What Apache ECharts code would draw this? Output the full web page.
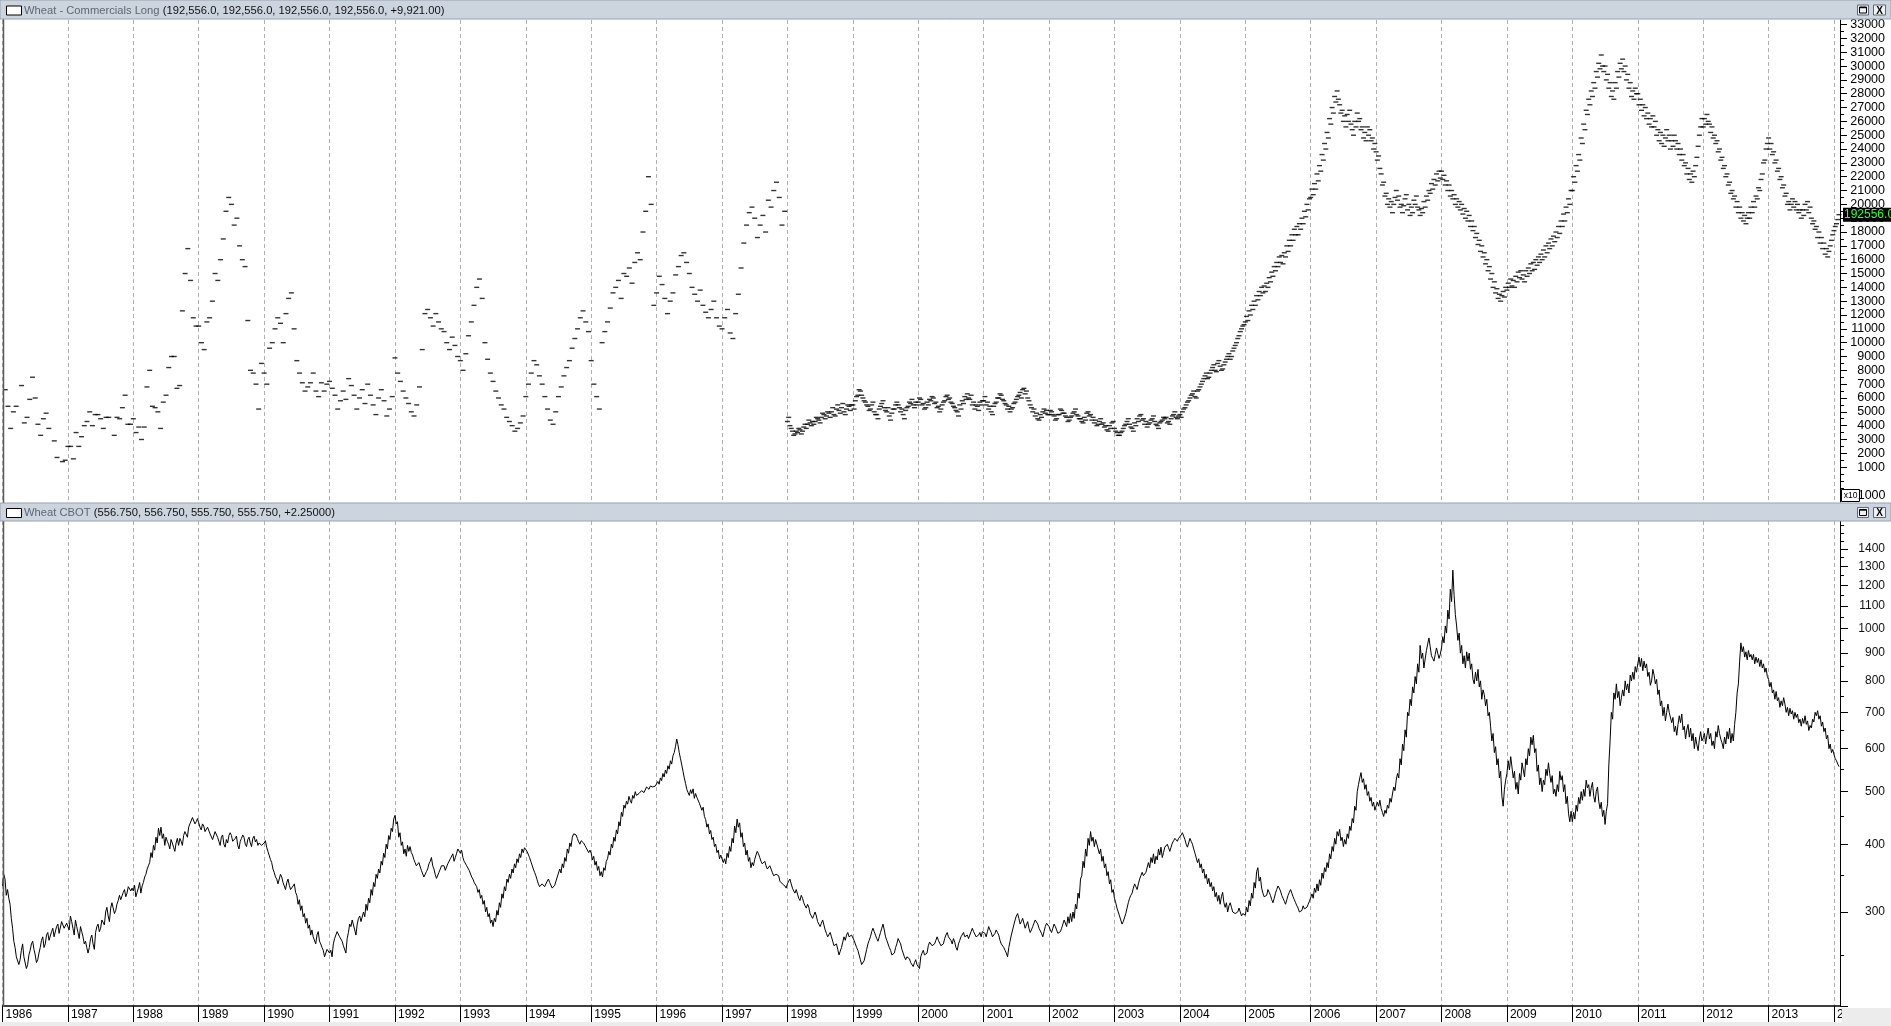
<!DOCTYPE html>
<html><head><meta charset="utf-8">
<script src="https://cdn.jsdelivr.net/npm/echarts@6/dist/echarts.min.js"></script>
<style>html,body{margin:0;padding:0;background:#fff;overflow:hidden}#c{width:1891px;height:1026px}</style>
</head><body><div id="c"></div>
<script>
// ---- DATA ----
// Commercials Long, thousands of contracts. Early reports (1986-1997), 24 slots per year; null = no report drawn
const cotEarlyStartYear = 1986, cotEarlyPerYear = 24;
const cotEarly = [
null,66,54,38,50,54,null,69,42,46,59,75,60,41,33,45,49,38,null,29,17,null,14,15,
25,25,16,35,25,32,40,43,50,40,48,48,45,38,46,46,null,33,46,45,53,62,41,41,
45,35,39,30,39,68,80,54,53,50,38,57,62,82,90,90,67,69,123,150,168,145,118,112,
112,100,95,115,118,130,150,145,160,175,195,205,200,185,190,170,160,155,116,80,78,70,52,85,
78,70,96,100,110,118,114,100,121,132,136,110,87,78,71,65,68,71,78,65,61,71,65,70,
72,67,62,52,58,65,59,74,69,62,52,60,66,56,70,62,55,48,60,66,58,47,52,61,
89,78,72,65,60,56,50,47,55,68,95,121,124,118,112,121,115,110,108,100,95,104,98,90,
87,80,92,105,115,127,140,146,132,100,88,78,72,65,60,55,52,46,43,40,36,38,42,47,
61,70,78,87,84,76,70,61,52,44,41,50,61,68,76,82,87,96,103,110,118,123,115,108,
87,70,61,52,100,108,115,125,136,140,145,132,150,148,154,143,158,165,160,180,195,220,200,127,
136,148,142,132,121,130,136,149,155,163,165,158,150,140,135,130,138,127,122,118,124,130,118,112,
110,118,124,107,103,121,135,154,172,185,194,198,190,176,185,192,180,203,198,210,216,205,185,195
];
// Weekly reports 1998-2014, 52 per year
const cotLateStartYear = 1998, cotLatePerYear = 52;
const cotLate = [
43,46,40,38,36,33,34,36,35,38,37,34,36, 39,41,38,41,44,42,40,43,41,43,46,45,44, 42,46,49,48,45,47,50,49,46,50,53,48,47, 52,55,51,49,53,56,50,48,52,55,54,51,55,
55,52,58,61,62,66,65,62,60,58,57,55,54, 51,52,55,57,50,48,48,45,52,54,56,58,53, 51,50,53,47,44,49,52,52,55,57,55,53,50, 52,48,45,51,53,54,57,56,59,55,53,57,55,
57,60,59,55,56,52,53,57,55,59,58,61,60, 56,57,53,54,50,52,55,57,58,61,62,59,60, 57,56,54,53,51,50,47,55,52,58,56,61,59, 63,60,59,62,55,57,52,55,54,51,57,55,58,
58,61,55,57,52,54,50,48,54,56,57,60,60, 63,62,59,58,56,55,52,54,50,52,53,56,57, 59,61,62,64,60,66,67,63,65,60,58,55,53, 50,52,47,49,45,44,48,46,50,52,49,51,48,
48,51,50,48,47,44,45,48,48,52,51,49,49, 47,46,43,44,46,47,49,50,52,48,47,45,45, 43,42,46,44,49,50,47,48,44,46,42,44,40, 41,43,45,41,42,39,40,37,36,40,38,42,43,
38,36,35,33,33,35,36,38,40,41,43,45,41, 39,38,36,42,40,45,43,47,48,44,45,41,43, 39,41,42,44,45,47,43,41,40,38,42,43,44, 46,45,46,42,43,41,45,47,48,50,46,45,47,
48,46,50,52,53,55,57,58,60,62,63,65,61, 60,65,66,68,70,72,74,76,78,74,75,78,80, 82,84,80,79,85,87,83,80,81,84,86,88,90, 92,88,90,94,96,98,100,103,105,108,110,112,113,
115,119,116,123,120,127,124,130,127,134,131,137,134, 140,136,141,137,143,140,147,144,151,148,155,152,158, 155,162,158,163,157,165,162,170,166,174,170,178,174, 182,178,184,178,186,182,190,186,195,191,200,196,204,
205,211,207,215,211,222,217,228,224,236,232,244,240, 252,248,262,258,270,266,278,274,282,276,272,266,268, 260,264,256,265,260,268,258,254,250,260,256,266,260, 262,254,256,248,252,246,256,250,254,246,248,240,244,
238,232,235,226,222,214,216,206,208,200,204,198,202, 194,200,205,210,203,206,198,200,194,199,204,207,196, 200,192,198,194,203,200,206,198,196,192,197,194,202, 198,206,203,210,208,215,211,218,214,222,217,224,219,
224,218,221,214,217,210,214,206,210,204,207,200,204, 198,202,196,200,193,197,190,195,188,192,184,188,181, 184,176,179,171,174,166,170,162,165,157,160,152,155, 146,150,140,144,136,139,132,135,130,134,137,133,140,
138,143,140,146,141,145,140,148,144,151,147,152,146, 149,144,152,148,154,150,157,152,158,153,160,156,162, 158,164,160,167,162,170,165,172,168,175,170,177,173, 180,176,184,179,188,184,193,188,198,194,204,200,210,
210,220,216,228,224,236,232,248,244,258,254,268,265, 276,272,282,278,288,284,296,292,302,298,308,300,296, 300,290,294,284,288,278,282,276,288,284,296,292,302, 298,305,296,300,290,294,284,288,278,282,276,284,280,
280,272,276,268,272,264,270,262,266,258,262,256,264, 256,260,250,254,246,252,244,250,242,248,254,246,250, 240,246,242,250,246,240,244,236,240,232,236,228,230, 222,226,218,222,216,224,220,228,234,242,250,256,262,
256,262,258,265,260,258,252,256,248,250,244,246,238, 240,232,234,226,228,220,222,214,216,208,210,204,206, 198,202,194,198,190,194,188,192,186,190,194,190,198, 194,202,198,206,204,212,210,218,222,230,232,240,244,
248,240,244,236,238,230,232,224,226,218,220,212,214, 206,208,200,202,196,200,204,198,202,196,200,194,196, 190,196,192,200,196,202,194,198,190,186,188,182,184, 176,180,172,176,168,172,164,168,162,166,170,174,178,
181,184,186,189,192.556
];
// Wheat CBOT price, cents/bu, weekly (52 per year)
const priceStartYear = 1986, pricePerYear = 52;
const wheatPrice = [
335,352,345,322,330,318,310,292,280,265,258,248,250, 240,245,255,262,248,250,236,240,250,255,262,265,256, 250,242,245,252,258,266,270,258,262,272,275,266,268, 276,280,270,272,282,285,274,276,288,290,280,282,286,
285,278,295,288,280,272,290,282,275,268,282,276,270, 262,265,258,252,258,268,272,262,256,275,282,285,276, 280,290,292,284,300,306,295,288,305,312,310,298,302, 310,315,322,316,318,326,330,320,325,334,335,328,332,
328,336,320,326,332,340,325,335,340,348,352,360,365, 370,386,378,398,390,412,402,428,415,430,410,418,398, 412,405,400,392,408,402,395,388,402,410,398,410,405, 398,415,422,420,412,430,436,438,448,445,436,440,446,
438,430,425,436,432,422,420,430,428,418,415,408,410, 422,420,412,405,398,412,416,400,395,408,402,415,420, 415,405,402,410,414,398,392,405,410,416,412,400,396, 408,412,402,396,410,414,404,408,398,402,405,398,400,
402,406,395,388,385,375,370,360,355,348,345,338,340, 352,348,340,335,330,340,345,336,330,328,335,338,326, 322,310,316,302,308,294,298,286,292,280,284,272,278, 270,268,262,272,276,265,262,258,255,248,250,256,258,
252,255,248,262,268,270,276,278,270,272,265,260,258, 252,268,275,285,282,290,284,278,272,285,292,295,288, 288,300,294,310,302,318,312,330,322,340,334,352,346, 360,354,372,366,385,378,400,392,415,408,428,422,445,
452,436,440,412,420,398,404,384,392,380,398,388,396, 386,382,375,370,365,362,370,368,358,355,348,350,356, 360,368,372,378,365,360,352,346,348,355,358,365,368, 365,358,360,368,370,376,378,384,372,378,385,392,390,
385,390,378,372,370,365,362,358,355,348,345,340,338, 334,326,330,318,322,310,315,300,306,294,298,286,290, 282,292,288,302,296,312,306,324,318,334,328,345,340, 352,346,360,354,368,362,376,370,384,378,392,386,394,
392,388,385,378,372,366,360,355,350,344,338,334,332, 338,340,334,335,342,345,340,338,332,330,336,342,348, 350,360,354,368,362,378,372,392,385,402,396,412,418, 420,416,410,404,400,406,408,402,398,394,392,386,390,
385,374,380,366,372,358,364,350,356,348,362,358,372, 376,388,382,400,394,412,405,425,418,440,432,458,450, 472,466,480,474,490,482,476,492,486,500,492,488,496, 498,502,506,498,500,510,506,505,512,515,510,508,512,
512,522,516,530,524,540,532,548,540,558,550,570,562, 582,590,605,625,610,590,575,560,545,530,518,505,498, 492,504,496,506,486,496,488,492,476,480,462,468,450, 444,430,436,418,424,408,412,396,400,386,390,376,382,
380,370,376,368,385,378,396,388,410,402,432,420,445, 430,438,412,420,396,402,382,390,372,378,362,370,365, 375,382,388,384,378,372,368,370,372,365,360,362,365, 360,355,350,348,352,355,350,342,340,338,336,335,332,
338,342,345,338,332,328,325,330,328,318,315,322,318, 312,308,305,310,306,298,295,292,296,300,295,288,285, 282,286,290,284,278,274,270,272,275,270,265,260,258, 262,256,250,254,258,264,270,266,272,275,270,268,272,
270,266,262,258,255,250,245,240,238,244,250,256,262, 266,270,276,280,276,272,268,265,270,275,280,285,278, 270,266,262,258,255,250,248,252,258,262,268,265,262, 256,252,248,245,248,250,246,242,240,238,242,245,240,
240,236,248,252,255,250,248,252,260,264,265,260,258, 262,266,270,266,265,260,258,262,268,272,275,270,270, 266,262,268,264,258,255,262,266,270,272,275,270,268, 272,268,272,276,280,276,274,270,268,272,275,270,276,
278,274,270,276,282,278,275,270,268,274,278,275,272, 266,262,260,258,255,252,248,258,265,272,278,284,290, 295,298,292,285,288,292,286,280,284,288,280,275,278, 282,286,290,288,285,280,278,274,270,276,282,286,288,
282,278,275,280,285,282,278,274,272,276,280,285,290, 290,282,294,286,298,288,300,292,310,304,325,318,345, 350,372,362,392,380,410,398,422,405,412,396,408,400, 398,384,392,372,380,362,368,350,356,338,344,326,330,
318,312,305,300,295,290,285,288,290,298,305,312,318, 322,325,332,338,334,330,338,345,350,355,350,348,355, 358,370,362,378,370,384,368,380,374,392,382,395,378, 386,395,398,400,394,388,395,402,406,410,408,405,410,
412,416,420,414,408,400,395,402,410,405,400,392,385, 382,370,376,362,368,354,360,346,352,338,346,334,340, 328,334,320,326,314,322,310,320,326,312,306,312,300, 308,312,306,300,302,298,296,300,305,300,295,298,300,
296,306,300,315,308,325,318,340,332,356,362,342,348, 332,325,320,318,322,330,326,322,316,312,318,325,330, 335,332,328,322,318,314,310,316,322,326,330,325,320, 316,312,308,305,300,298,302,308,304,302,306,310,314,
312,324,318,332,326,338,328,344,336,354,346,362,356, 370,362,384,376,396,388,410,400,422,414,426,406,412, 396,408,400,418,410,432,424,446,438,470,462,500,515, 530,542,520,528,505,515,492,500,480,488,470,478,462,
465,478,470,482,466,458,450,462,456,472,466,486,478, 495,510,502,525,540,530,575,560,612,595,650,630,700, 690,740,720,780,760,815,790,860,830,930,880,900,845, 878,910,935,960,925,890,880,870,895,920,900,880,895,
920,965,940,1010,980,1080,1040,1180,1120,1280,1150,1060,1010, 950,980,900,930,860,890,845,905,870,900,840,860,805, 790,830,800,840,780,800,740,770,755,720,740,690,700, 660,620,640,590,605,560,575,530,545,490,470,505,525,
540,570,548,580,555,530,545,505,520,495,540,525,565, 548,532,575,560,600,582,630,610,635,590,600,545,560, 515,530,500,525,515,550,535,565,540,520,535,495,505, 490,515,500,545,525,535,500,515,475,490,455,440,460,
440,458,445,472,460,488,475,500,482,505,490,525,508, 515,490,508,520,490,478,500,510,480,465,478,450,462, 435,460,475,560,620,700,680,760,740,790,745,765,720, 745,770,750,800,770,790,760,820,800,830,805,850,830,
860,885,850,880,835,870,845,860,815,830,785,800,840, 820,790,805,755,770,720,735,690,715,675,700,725,700, 705,670,685,645,660,635,665,690,670,695,650,660,625, 650,665,630,655,620,640,600,630,610,595,625,645,620,
628,640,612,635,655,625,640,608,620,600,645,630,662, 640,625,615,600,630,612,645,625,655,615,640,620,665, 700,760,790,870,940,905,925,885,905,875,910,885,895, 875,895,860,885,865,880,850,875,845,860,830,845,815,
805,780,795,760,770,740,765,735,745,715,735,720,745, 725,700,715,690,712,695,705,680,700,685,695,670,680, 660,682,668,690,665,675,648,662,655,680,672,700,690, 705,680,690,660,672,645,655,625,635,600,612,590,598,
585,575,570,562,556
];
// Axis ticks
const cotLabelTicks = [10,20,30,40,50,60,70,80,90,100,110,120,130,140,150,160,170,180,190,200,210,220,230,240,250,260,270,280,290,300,310,320,330];
const cotMinorTicks = [-10,-5,0,5,15,25,35,45,55,65,75,85,95,105,115,125,135,145,155,165,175,185,195,205,215,225,235,245,255,265,275,285,295,305,315,325];
const priceLabelTicks = [300,400,500,600,700,800,900,1000,1100,1200,1300,1400];
const priceMinorTicks = [250,350,450,550,650,750,850,950,1050,1150,1250,1350,1450,1500,1550];
const cotTitle = 'Wheat - Commercials Long';
const cotTitleVals = '(192,556.0, 192,556.0, 192,556.0, 192,556.0, +9,921.00)';
const priceTitle = 'Wheat CBOT';
const priceTitleVals = '(556.750, 556.750, 555.750, 555.750, +2.25000)';

// ---- BUILD ----
const FONT = '"Liberation Sans", Arial, sans-serif';
const cotEarlyPts = cotEarly.map((v,i)=>[cotEarlyStartYear + i/cotEarlyPerYear, v==null?'-':v]);
const cotLatePts = cotLate.map((v,i)=>[cotLateStartYear + i/cotLatePerYear, v]);
const pricePts = wheatPrice.map((v,i)=>[priceStartYear + i/pricePerYear, v]);
const lastCot = cotLate[cotLate.length-1];

const X_MIN = 1986, X_MAX = 2014.092;
const GRID_L = 2.5, GRID_R = 51;

function titleBar(y, h, name, vals){
  const cy = y + h/2 + 1;
  return [
    {type:'rect', z:50, shape:{x:0,y:y,width:1891,height:h}, style:{fill:'#ccd4de', stroke:'#98a2ae', lineWidth:1}},
    {type:'rect', z:51, shape:{x:6.5,y:cy-4.5,width:15,height:9}, style:{fill:'#fff', stroke:'#000', lineWidth:1}},
    {type:'text', z:51, x:24, y:cy, style:{text:'{a|'+name+'} {b|'+vals+'}', verticalAlign:'middle',
      rich:{a:{fill:'#5d6775', fontSize:11.2, fontFamily:FONT}, b:{fill:'#111', fontSize:11.2, fontFamily:FONT}}}},
    {type:'rect', z:51, shape:{x:1857.5,y:cy-5.5,width:11,height:10}, style:{fill:'#eef1f5', stroke:'#5f6874', lineWidth:1}},
    {type:'rect', z:52, shape:{x:1859.5,y:cy-3.5,width:7,height:6}, style:{fill:'none', stroke:'#000', lineWidth:1}},
    {type:'rect', z:52, shape:{x:1859.5,y:cy-3.5,width:7,height:1.2}, style:{fill:'#000'}},
    {type:'rect', z:51, shape:{x:1873.5,y:cy-5.5,width:12,height:10}, style:{fill:'#eef1f5', stroke:'#5f6874', lineWidth:1}},
    {type:'text', z:52, x:1879.5, y:cy+0.5, style:{text:'X', fill:'#000', fontSize:10, fontWeight:'bold', fontFamily:FONT, align:'center', verticalAlign:'middle'}}
  ];
}

const chart = echarts.init(document.getElementById('c'), null, {renderer:'canvas'});
const xBase = {type:'value', min:X_MIN, max:X_MAX, interval:1,
  splitLine:{show:true, interval:0, lineStyle:{color:'#b0b0b0', type:[4,3], width:1}}};
const staticGraphic = [].concat(
  titleBar(0, 19, cotTitle, cotTitleVals),
  titleBar(503, 18, priceTitle, priceTitleVals),
  [
    {type:'line', z:40, shape:{x1:3.5,y1:19,x2:3.5,y2:1007}, style:{stroke:'#5a5a5a', lineWidth:1.5}},
    {type:'rect', z:40, shape:{x:1841.5,y:489.5,width:18,height:12}, style:{fill:'#fff', stroke:'#000', lineWidth:1}},
    {type:'text', z:41, x:1850.5, y:496, style:{text:'x10', fill:'#000', fontSize:8.5, fontFamily:FONT, align:'center', verticalAlign:'middle'}},
    {type:'text', z:41, x:1885.5, y:496, style:{text:'1000', fill:'#000', fontSize:12.5, fontFamily:FONT, align:'right', verticalAlign:'middle'}},
    {type:'rect', z:40, shape:{x:1842,y:1008,width:49,height:18}, style:{fill:'#ececec'}},
    {type:'rect', z:40, shape:{x:0,y:1022,width:1891,height:4}, style:{fill:'#ececec'}},
    {type:'line', z:41, shape:{x1:1840,y1:1006.5,x2:1848,y2:1006.5}, style:{stroke:'#000', lineWidth:1}}
  ]
);
const option = {
  animation:false,
  backgroundColor:'#fff',
  grid:[
    {left:GRID_L, right:GRID_R, top:20, height:482},
    {left:GRID_L, right:GRID_R, top:521, height:485}
  ],
  xAxis:[
    Object.assign({gridIndex:0, axisLine:{show:false}, axisTick:{show:false}, axisLabel:{show:false}}, xBase),
    Object.assign({gridIndex:1, axisLine:{show:true, lineStyle:{color:'#000', width:1.5}},
      axisTick:{show:true, interval:0, length:16, lineStyle:{color:'#000'}},
      axisLabel:{show:true, interval:0, align:'left', margin:3, padding:[0,0,0,3], color:'#000', fontSize:12, fontFamily:FONT,
        formatter:v=> v===2014 ? '2' : String(v)}}, xBase)
  ],
  yAxis:[
    {gridIndex:0, type:'value', position:'right', min:-15.2, max:333.3,
      axisLine:{show:true, lineStyle:{color:'#000'}},
      axisTick:{show:true, customValues:cotLabelTicks, length:7, lineStyle:{color:'#000'}},
      axisLabel:{show:true, customValues:cotLabelTicks, align:'right', margin:45, color:'#000', fontSize:12.5, fontFamily:FONT,
        formatter:v=>String(Math.round(v*100))},
      splitLine:{show:false}},
    {gridIndex:0, type:'value', position:'right', min:-15.2, max:333.3,
      axisLine:{show:false}, axisLabel:{show:false}, splitLine:{show:false},
      axisTick:{show:true, customValues:cotMinorTicks, length:4, lineStyle:{color:'#000'}}},
    {gridIndex:1, type:'log', logBase:10, position:'right', min:201.3, max:1576.8,
      axisLine:{show:true, lineStyle:{color:'#000'}},
      axisTick:{show:true, customValues:priceLabelTicks, length:8, lineStyle:{color:'#000'}},
      axisLabel:{show:true, customValues:priceLabelTicks, align:'right', margin:45, color:'#111', fontSize:12, fontFamily:FONT,
        formatter:v=>String(Math.round(v))},
      splitLine:{show:false}, minorTick:{show:false}, minorSplitLine:{show:false}},
    {gridIndex:1, type:'log', logBase:10, position:'right', min:201.3, max:1576.8,
      axisLine:{show:false}, axisLabel:{show:false}, splitLine:{show:false},
      axisTick:{show:true, customValues:priceMinorTicks, length:4, lineStyle:{color:'#000'}}}
  ],
  series:[
    {type:'scatter', xAxisIndex:0, yAxisIndex:0, data:cotEarlyPts, symbol:'rect', symbolSize:[5,1.4],
      itemStyle:{color:'#000'}, silent:true},
    {type:'scatter', xAxisIndex:0, yAxisIndex:0, data:cotLatePts, symbol:'rect', symbolSize:[5,1.4],
      itemStyle:{color:'#000'}, silent:true},
    {type:'line', xAxisIndex:1, yAxisIndex:2, data:pricePts, showSymbol:false, symbol:'none',
      lineStyle:{color:'#000', width:1}, silent:true}
  ],
  graphic: staticGraphic
};
chart.setOption(option);
// last-value tag on the COT axis, placed through the chart's own scale
const tagPos = chart.convertToPixel({xAxisIndex:0, yAxisIndex:0}, [X_MAX, lastCot]);
option.graphic = staticGraphic.concat([
  {type:'rect', z:60, shape:{x:tagPos[0]+3, y:tagPos[1]-7, width:1891-tagPos[0]-3, height:14}, style:{fill:'#000'}},
  {type:'text', z:61, x:tagPos[0]+4, y:tagPos[1]+0.5, style:{text:(lastCot*1000).toFixed(1), fill:'#33ff33', fontSize:12, fontFamily:FONT, verticalAlign:'middle', align:'left'}}
]);
chart.setOption(option, true);
</script>
</body></html>
